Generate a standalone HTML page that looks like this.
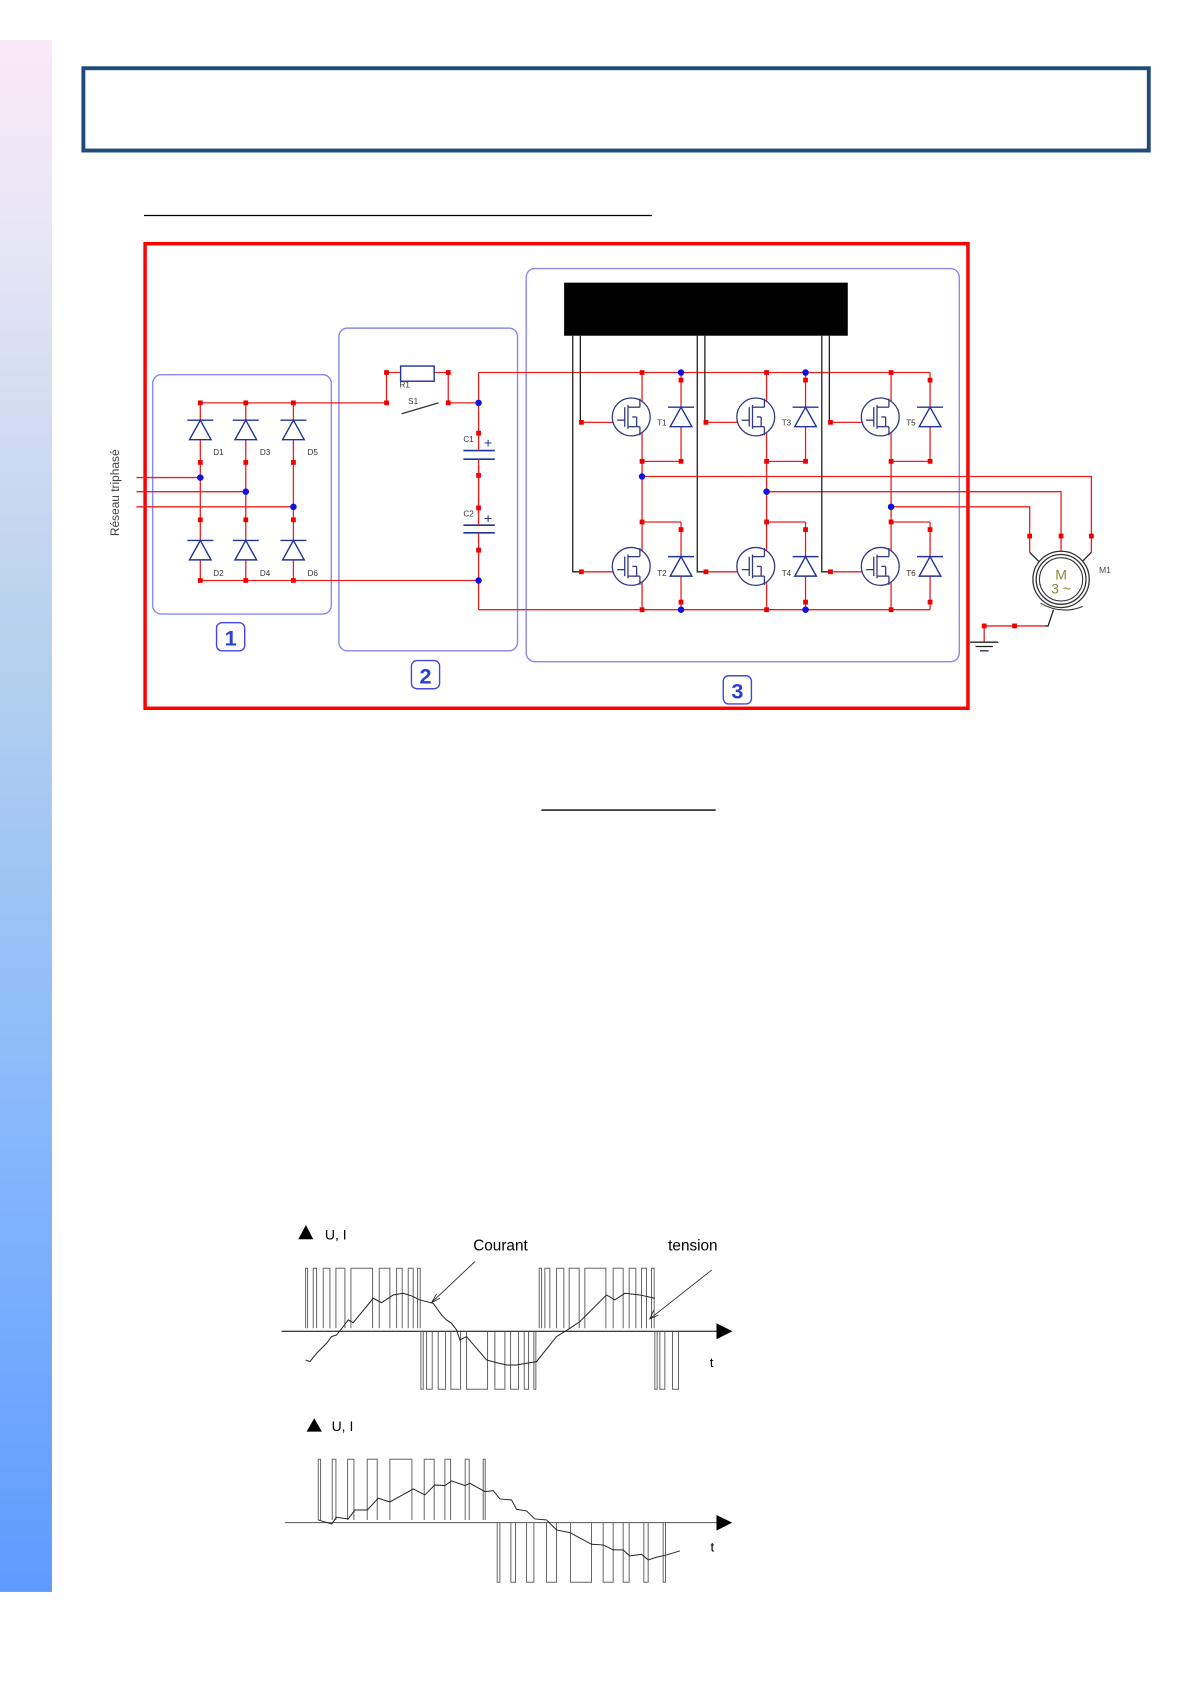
<!DOCTYPE html>
<html><head><meta charset="utf-8"><style>
html,body{margin:0;padding:0;background:#fff;}
svg{display:block;}
text{font-family:"Liberation Sans",sans-serif;}
</style></head><body>
<svg width="1191" height="1684" viewBox="0 0 1100 1555" preserveAspectRatio="none" xmlns="http://www.w3.org/2000/svg">
<defs>
<linearGradient id="bar" x1="0" y1="0" x2="0" y2="1">
<stop offset="0" stop-color="#fbe9f6"/><stop offset="0.12" stop-color="#e8e6f5"/><stop offset="0.4" stop-color="#b4d0ee"/><stop offset="0.7" stop-color="#86b8fb"/><stop offset="1" stop-color="#5f9bff"/>
</linearGradient>
<g id="dio"><polygon points="0,-9 -10,9 10,9" fill="#fff" stroke="#22339a" stroke-width="1.3"/><line x1="-12" y1="-9" x2="12" y2="-9" stroke="#22339a" stroke-width="1.3"/></g>
<g id="fet" fill="none" stroke="#333a80" stroke-width="1.2"><circle r="17.5" fill="#fff"/><line x1="-13" y1="3" x2="-6" y2="3"/><line x1="-6" y1="-9" x2="-6" y2="9"/><line x1="-3" y1="-11" x2="-3" y2="11"/><line x1="-3" y1="-9" x2="8" y2="-9"/><line x1="8" y1="-9" x2="8" y2="-17"/><line x1="-3" y1="9" x2="8" y2="9"/><line x1="8" y1="9" x2="8" y2="17"/><line x1="1" y1="0" x2="5" y2="0"/><line x1="5" y1="0" x2="5" y2="9"/></g>
<rect id="n" x="-2.2" y="-2.2" width="4.4" height="4.4" fill="#e00"/>
</defs>
<rect x="0" y="37" width="48" height="1433" fill="url(#bar)"/>
<rect x="77" y="63" width="984" height="76" fill="none" stroke="#1f4a7c" stroke-width="3.6"/>
<line x1="133" y1="199" x2="602" y2="199" stroke="#000" stroke-width="1.2"/>
<line x1="500" y1="748" x2="661" y2="748" stroke="#000" stroke-width="1.2"/>

<g fill="none" stroke="#8a8af0" stroke-width="1.3">
<rect x="141" y="346" width="165" height="221" rx="8"/>
<rect x="313" y="303" width="165" height="298" rx="8"/>
<rect x="486" y="248" width="400" height="363" rx="8"/>
</g>
<rect x="134" y="225" width="760" height="429" fill="none" stroke="#f00" stroke-width="3.2"/>
<rect x="521" y="261" width="262" height="49" fill="#000"/>

<g stroke="#e82020" stroke-width="1.2" fill="none">
<line x1="185" y1="372" x2="357" y2="372"/><line x1="414" y1="372" x2="442" y2="372"/>
<polyline points="357,372 357,344 414,344 414,372"/>
<line x1="185" y1="536" x2="442" y2="536"/>
<line x1="185" y1="372" x2="185" y2="536"/><line x1="227" y1="372" x2="227" y2="536"/><line x1="271" y1="372" x2="271" y2="536"/>
<line x1="126" y1="441" x2="185" y2="441"/><line x1="126" y1="454" x2="227" y2="454"/><line x1="126" y1="468" x2="271" y2="468"/>
<line x1="442" y1="344" x2="442" y2="563"/>
<line x1="442" y1="344" x2="859" y2="344"/><line x1="442" y1="563" x2="859" y2="563"/>
<line x1="593" y1="344" x2="593" y2="563"/><line x1="708" y1="344" x2="708" y2="563"/><line x1="823" y1="344" x2="823" y2="563"/>
<line x1="629" y1="344" x2="629" y2="426"/><line x1="744" y1="344" x2="744" y2="426"/><line x1="859" y1="344" x2="859" y2="426"/>
<line x1="593" y1="426" x2="629" y2="426"/><line x1="708" y1="426" x2="744" y2="426"/><line x1="823" y1="426" x2="859" y2="426"/>
<line x1="593" y1="482" x2="629" y2="482"/><line x1="708" y1="482" x2="744" y2="482"/><line x1="823" y1="482" x2="859" y2="482"/>
<line x1="629" y1="482" x2="629" y2="563"/><line x1="744" y1="482" x2="744" y2="563"/><line x1="859" y1="482" x2="859" y2="563"/>
<line x1="537" y1="390" x2="566" y2="390"/><line x1="652" y1="390" x2="681" y2="390"/><line x1="767" y1="390" x2="796" y2="390"/>
<line x1="537" y1="528" x2="566" y2="528"/><line x1="652" y1="528" x2="681" y2="528"/><line x1="767" y1="528" x2="796" y2="528"/>
<polyline points="593,440 1008,440 1008,510"/><polyline points="708,454 980,454 980,510"/><polyline points="823,468 951,468 951,510"/>
<polyline points="909,593 909,578 965,578"/>
</g>
<g stroke="#222" stroke-width="1.2" fill="none">
<polyline points="536,310 536,390 538,390"/><polyline points="529,310 529,528 538,528"/>
<polyline points="651,310 651,390 653,390"/><polyline points="644,310 644,528 653,528"/>
<polyline points="766,310 766,390 768,390"/><polyline points="759,310 759,528 768,528"/>
<polyline points="951,510 963,522"/><polyline points="980,510 980,518"/><polyline points="1008,510 996,522"/>
<polyline points="965,578 968,578 973,563"/>
<line x1="896" y1="593" x2="922" y2="593"/><line x1="901" y1="597" x2="917" y2="597"/><line x1="905" y1="601" x2="913" y2="601"/>
</g>
<rect x="370" y="338" width="31" height="14" fill="#fff" stroke="#22339a" stroke-width="1.3"/>
<line x1="371" y1="382" x2="405" y2="372" stroke="#333" stroke-width="1.2"/>
<rect x="436" y="405" width="12" height="25" fill="#fff"/><rect x="436" y="474" width="12" height="25" fill="#fff"/>
<g stroke="#22339a" stroke-width="1.5"><line x1="428" y1="416" x2="457" y2="416"/><line x1="428" y1="424" x2="457" y2="424"/><line x1="428" y1="485" x2="457" y2="485"/><line x1="428" y1="492" x2="457" y2="492"/></g>
<line x1="442" y1="405" x2="442" y2="416" stroke="#e82020" stroke-width="1.2"/><line x1="442" y1="424" x2="442" y2="485" stroke="#e82020" stroke-width="1.2"/><line x1="442" y1="492" x2="442" y2="500" stroke="#e82020" stroke-width="1.2"/>
<text x="447" y="413" font-size="13" fill="#22339a">+</text><text x="447" y="483" font-size="13" fill="#22339a">+</text>
<use href="#dio" x="185" y="397"/><use href="#dio" x="227" y="397"/><use href="#dio" x="271" y="397"/>
<use href="#dio" x="185" y="508"/><use href="#dio" x="227" y="508"/><use href="#dio" x="271" y="508"/>
<use href="#dio" x="629" y="385"/><use href="#dio" x="744" y="385"/><use href="#dio" x="859" y="385"/>
<use href="#dio" x="629" y="523"/><use href="#dio" x="744" y="523"/><use href="#dio" x="859" y="523"/>
<use href="#fet" x="583" y="385"/><use href="#fet" x="698" y="385"/><use href="#fet" x="813" y="385"/>
<use href="#fet" x="583" y="523"/><use href="#fet" x="698" y="523"/><use href="#fet" x="813" y="523"/>
<g>
<use href="#n" x="185" y="372"/><use href="#n" x="227" y="372"/><use href="#n" x="271" y="372"/>
<use href="#n" x="185" y="536"/><use href="#n" x="227" y="536"/><use href="#n" x="271" y="536"/>
<use href="#n" x="185" y="427"/><use href="#n" x="227" y="427"/><use href="#n" x="271" y="427"/>
<use href="#n" x="185" y="480"/><use href="#n" x="227" y="480"/><use href="#n" x="271" y="480"/>
<use href="#n" x="357" y="372"/><use href="#n" x="357" y="344"/><use href="#n" x="414" y="344"/><use href="#n" x="414" y="372"/>
<use href="#n" x="442" y="400"/><use href="#n" x="442" y="439"/><use href="#n" x="442" y="469"/><use href="#n" x="442" y="508"/>
<use href="#n" x="593" y="344"/><use href="#n" x="708" y="344"/><use href="#n" x="823" y="344"/>
<use href="#n" x="593" y="563"/><use href="#n" x="708" y="563"/><use href="#n" x="823" y="563"/>
<use href="#n" x="629" y="351"/><use href="#n" x="744" y="351"/><use href="#n" x="859" y="351"/>
<use href="#n" x="629" y="426"/><use href="#n" x="744" y="426"/><use href="#n" x="859" y="426"/>
<use href="#n" x="593" y="426"/><use href="#n" x="708" y="426"/><use href="#n" x="823" y="426"/>
<use href="#n" x="593" y="482"/><use href="#n" x="708" y="482"/><use href="#n" x="823" y="482"/>
<use href="#n" x="629" y="489"/><use href="#n" x="744" y="489"/><use href="#n" x="859" y="489"/>
<use href="#n" x="629" y="556"/><use href="#n" x="744" y="556"/><use href="#n" x="859" y="556"/>
<use href="#n" x="537" y="390"/><use href="#n" x="652" y="390"/><use href="#n" x="767" y="390"/>
<use href="#n" x="537" y="528"/><use href="#n" x="652" y="528"/><use href="#n" x="767" y="528"/>
<use href="#n" x="951" y="495"/><use href="#n" x="980" y="495"/><use href="#n" x="1008" y="495"/>
<use href="#n" x="909" y="578"/><use href="#n" x="937" y="578"/>
</g>
<g fill="#1010e0">
<circle cx="185" cy="441" r="3"/><circle cx="227" cy="454" r="3"/><circle cx="271" cy="468" r="3"/>
<circle cx="442" cy="372" r="3"/><circle cx="442" cy="536" r="3"/>
<circle cx="629" cy="344" r="3"/><circle cx="744" cy="344" r="3"/><circle cx="629" cy="563" r="3"/><circle cx="744" cy="563" r="3"/>
<circle cx="593" cy="440" r="3"/><circle cx="708" cy="454" r="3"/><circle cx="823" cy="468" r="3"/>
</g>
<circle cx="980" cy="535" r="26" fill="#fff" stroke="#333" stroke-width="1.2"/>
<circle cx="980" cy="535" r="23" fill="none" stroke="#333" stroke-width="1.2"/>
<circle cx="980" cy="535" r="20" fill="none" stroke="#333" stroke-width="1"/>
<path d="M961,557 Q980,568 1000,560" fill="none" stroke="#333" stroke-width="1"/>
<text x="980" y="535" font-size="13" fill="#8a8a30" text-anchor="middle">M</text>
<text x="980" y="548" font-size="13" fill="#8a8a30" text-anchor="middle">3 ~</text>
<text x="1015" y="529" font-size="8" fill="#444">M1</text>
<g font-size="7.5" fill="#333">
<text x="197" y="420">D1</text><text x="240" y="420">D3</text><text x="284" y="420">D5</text>
<text x="197" y="532">D2</text><text x="240" y="532">D4</text><text x="284" y="532">D6</text>
<text x="369" y="358">R1</text><text x="377" y="373">S1</text><text x="428" y="408">C1</text><text x="428" y="477">C2</text>
<text x="607" y="393">T1</text><text x="722" y="393">T3</text><text x="837" y="393">T5</text>
<text x="607" y="532">T2</text><text x="722" y="532">T4</text><text x="837" y="532">T6</text>
</g>
<text transform="translate(110,455) rotate(-90)" font-size="11" fill="#444" text-anchor="middle">Réseau triphasé</text>
<g fill="none" stroke="#4646e0" stroke-width="1.3">
<rect x="200" y="575" width="26" height="26" rx="5"/><rect x="380" y="610" width="26" height="26" rx="5"/><rect x="668" y="624" width="26" height="26" rx="5"/>
</g>
<g font-size="20" font-weight="bold" fill="#2a3ed8" text-anchor="middle">
<text x="213" y="596">1</text><text x="393" y="631">2</text><text x="681" y="645">3</text>
</g>

<g transform="scale(0.92336) translate(260,1130) scale(0.33333)">
<line x1="65" y1="604" x2="1375" y2="604" stroke="#000" stroke-width="3"/>
<polygon points="1370,580 1418,604 1370,628" fill="#000"/>
<polygon points="115,328 138,285 160,328" fill="#000"/>
<text x="195" y="328" font-size="42" font-family="Liberation Serif,serif">U,  I</text>
<text x="640" y="362" font-size="46">Courant</text>
<text x="1225" y="362" font-size="46">tension</text>
<text x="1350" y="711" font-size="40" font-family="Liberation Serif,serif">t</text>
<g fill="none" stroke="#666" stroke-width="3">
<path d="M137,595V415H143V595M160,595V415H170V595M190,595V415H210V595M228,595V415H255V595M273,595V415H338V595M358,595V415H390V595M410,595V415H427V595M445,595V415H460V595M473,595V415H481V595"/>
<path d="M483,604V778H490V604M500,604V778H517V604M535,604V778H557V604M573,604V778H602V604M620,604V778H683V604M705,604V778H735V604M752,604V778H776V604M793,604V778H806V604M822,604V778H828V604"/>
<path d="M838,595V415H845V595M855,595V415H870V595M890,595V415H912V595M928,595V415H958V595M975,595V415H1038V595M1060,595V415H1090V595M1108,595V415H1128V595M1145,595V415H1160V595M1175,595V415H1183V595"/>
<path d="M1185,604V778H1192V604M1200,604V778H1215V604M1238,604V778H1256V604"/>
</g>
<polyline fill="none" stroke="#222" stroke-width="3" points="137,690 150,695 170,670 200,640 215,620 230,615 250,590 265,570 280,578 340,505 365,518 400,495 430,490 455,498 480,510 520,520 545,555 560,570 575,580 590,600 600,630 620,620 680,690 710,698 740,705 770,705 800,700 830,695 890,620 930,595 960,575 1040,495 1065,510 1095,490 1140,495 1185,505"/>
<line x1="645" y1="395" x2="518" y2="515" stroke="#222" stroke-width="2.5"/>
<polyline points="530,492 515,518 540,505" fill="none" stroke="#222" stroke-width="2.5"/>
<line x1="1356" y1="420" x2="1172" y2="565" stroke="#222" stroke-width="2.5"/>
<polyline points="1182,540 1170,567 1196,555" fill="none" stroke="#222" stroke-width="2.5"/>
</g>

<g transform="scale(0.92336) translate(280,1420) scale(0.33333)">
<polygon points="80,35 103,-5 126,35" fill="#000"/>
<text x="155" y="33" font-size="42" font-family="Liberation Serif,serif">U,  I</text>
<line x1="15" y1="308" x2="1315" y2="308" stroke="#555" stroke-width="3"/>
<polygon points="1310,285 1357,308 1310,332" fill="#000"/>
<text x="1292" y="395" font-size="40" font-family="Liberation Serif,serif">t</text>
<g fill="none" stroke="#666" stroke-width="3">
<path d="M115,300V118H122V300M157,300V118H168V300M203,300V118H222V300M262,300V118H292V300M330,300V118H396V300M433,300V118H463V300M495,300V118H512V300M556,300V118H568V300M610,300V118H616V300"/>
<path d="M652,308V487H660V308M693,308V487H707V308M740,308V487H762V308M800,308V487H830V308M872,308V487H935V308M970,308V487H1000V308M1030,308V487H1048V308M1092,308V487H1105V308M1150,308V487H1157V308"/>
</g>
<polyline fill="none" stroke="#222" stroke-width="3" points="115,300 155,312 170,292 205,297 225,270 262,270 295,235 330,246 400,207 435,225 465,195 495,197 515,183 555,197 570,190 615,215 640,212 660,237 695,240 710,268 740,273 765,297 800,300 830,330 870,338 935,373 970,375 1000,390 1030,390 1050,408 1085,403 1105,420 1130,412 1160,405 1200,393"/>
</g>
</svg>
</body></html>
